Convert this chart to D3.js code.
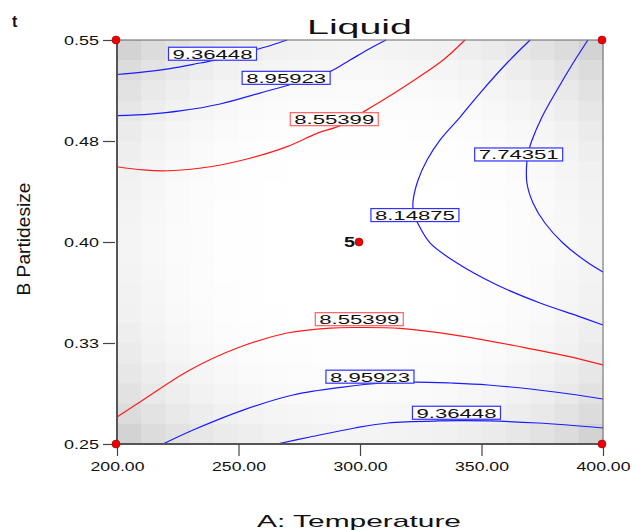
<!DOCTYPE html>
<html>
<head>
<meta charset="utf-8">
<script src="https://cdnjs.cloudflare.com/ajax/libs/d3/7.8.5/d3.min.js"></script>
<style>
  html, body { margin: 0; padding: 0; background: #fff; }
  text { font-family: "Liberation Sans", Arial, sans-serif; }
</style>
</head>
<body>
<div id="chart"></div>
<script>
// axis ranges and ticks
const xDomain = [200, 400]
const yDomain = [0.25, 0.55]
const xTicks = [200, 250, 300, 350, 400]
const xTickLabels = ["200.00", "250.00", "300.00", "350.00", "400.00"]
const yTicks = [0.25, 0.325, 0.40, 0.475, 0.55]
const yTickLabels = ["0.25", "0.33", "0.40", "0.48", "0.55"]

// contour lines, [temperature, particle size]
const line936Top = [[200, 0.5244], [209.5, 0.5259], [221.8, 0.5288], [234.2, 0.5329], [242.4, 0.5357],
  [250.6, 0.5396], [257.6, 0.5431], [263.8, 0.5463], [270.0, 0.55]]
const line896Top = [[200, 0.4938], [213.6, 0.4950], [225.9, 0.4973], [242.4, 0.5025], [258.8, 0.5106],
  [272.0, 0.5173], [279.4, 0.5218], [287.7, 0.5265], [295.9, 0.5351], [304.1, 0.5437], [310.7, 0.55]]
const line855Top = [[200, 0.4559], [210.7, 0.4535], [221.0, 0.4529], [238.3, 0.4559], [254.7, 0.4622],
  [270.0, 0.4708], [282.3, 0.4807], [291.8, 0.4864], [300.8, 0.4960], [309.5, 0.5054], [323.5, 0.5216],
  [334.2, 0.5351], [343.2, 0.55]]
const line815 = [[370.0, 0.55], [360.5, 0.5329], [349.4, 0.5106], [341.2, 0.4928], [332.9, 0.4757],
  [327.6, 0.4609], [323.9, 0.4460], [321.8, 0.4297], [322.2, 0.4200], [323.5, 0.4149], [328.8, 0.3993],
  [339.9, 0.3844], [356.4, 0.3681], [374.1, 0.3547], [389.7, 0.3450], [400, 0.3384]]
const line774 = [[393.8, 0.55], [387.7, 0.5329], [381.1, 0.5129], [374.9, 0.4928], [370.8, 0.4757],
  [369.5, 0.4683], [368.7, 0.4601], [368.7, 0.4438], [371.2, 0.4290], [376.1, 0.4141], [383.5, 0.3993],
  [393.4, 0.3851], [400, 0.3777]]
const line855Bot = [[200, 0.2700], [210.7, 0.2827], [230.0, 0.3050], [250.6, 0.3220], [270.0, 0.3324],
  [287.7, 0.3361], [300.0, 0.3365], [316.5, 0.3358], [339.1, 0.3309], [366.7, 0.3220], [385.2, 0.3153],
  [400, 0.3087]]
const line896Bot = [[218.9, 0.25], [231.3, 0.2604], [251.9, 0.2752], [272.4, 0.2864], [293.0, 0.2923],
  [309.5, 0.2953], [322.6, 0.2960], [337.0, 0.2953], [352.7, 0.2938], [380.2, 0.2886], [400, 0.2834]]
const line936Bot = [[265.8, 0.25], [279.4, 0.2552], [297.9, 0.2619], [311.5, 0.2656], [332.1, 0.2671],
  [352.7, 0.2671], [373.3, 0.2656], [400, 0.2619]]

const contourLines = [
  { level: "9.36448", pts: line936Top, at: [239.3, 0.5398] },
  { level: "8.95923", pts: line896Top, at: [269.6, 0.5219] },
  { level: "8.55399", pts: line855Top, at: [289.4, 0.4912] },
  { level: "8.14875", pts: line815, at: [322.6, 0.4200] },
  { level: "7.74351", pts: line774, at: [365.3, 0.4650] },
  { level: "8.55399", pts: line855Bot, at: [299.7, 0.3427] },
  { level: "8.95923", pts: line896Bot, at: [304.1, 0.3000] },
  { level: "9.36448", pts: line936Bot, at: [339.7, 0.2732] }
]
const redLevel = "8.55399"

// design points
const designPts = [[200, 0.25], [200, 0.55], [400, 0.25], [400, 0.55], [300, 0.40]]
const centerRuns = "5"

const W = 633, H = 530
const m = { left: 117, top: 40, right: 30, bottom: 86 }
const pw = W - m.left - m.right, ph = H - m.top - m.bottom

const svg = d3.select("#chart").append("svg").attr("width", W).attr("height", H)

const x = d3.scaleLinear().domain(xDomain).range([m.left, m.left + pw])
const y = d3.scaleLinear().domain(yDomain).range([m.top + ph, m.top])

// grey shading of the prediction error, darker toward the corners
const nCells = 20
const cells = d3.range(nCells * nCells).map(i => ({ c: i % nCells, r: Math.floor(i / nCells) }))
const cw = pw / nCells, ch = ph / nCells
svg.append("g").selectAll("rect").data(cells).join("rect")
  .attr("x", d => m.left + d.c * cw).attr("y", d => m.top + d.r * ch)
  .attr("width", cw + 0.5).attr("height", ch + 0.5)
  .attr("fill", d => {
    const u = (d.c + 0.5) / nCells * 2 - 1, v = (d.r + 0.5) / nCells * 2 - 1
    const k = 0.055 * (u ** 4 + v ** 4) + 0.1 * u * u * v * v
    const g = Math.round(255 * (1 - k))
    return `rgb(${g},${g},${g})`
  })

// contour lines
const line = d3.line().x(d => x(d[0])).y(d => y(d[1])).curve(d3.curveCatmullRom.alpha(0.5))
svg.append("g").selectAll("path").data(contourLines).join("path")
  .attr("d", d => line(d.pts))
  .attr("fill", "none")
  .attr("stroke", d => d.level === redLevel ? "#ff1a1a" : "#1a1aff")
  .attr("stroke-width", 1.2)

// frame
svg.append("rect").attr("x", m.left).attr("y", m.top).attr("width", pw).attr("height", ph)
  .attr("fill", "none").attr("stroke", "#666").attr("stroke-width", 1)
svg.append("line").attr("x1", m.left).attr("x2", m.left).attr("y1", m.top).attr("y2", m.top + ph + 1)
  .attr("stroke", "#555").attr("stroke-width", 2)
svg.append("line").attr("x1", m.left).attr("x2", m.left + pw).attr("y1", m.top + ph).attr("y2", m.top + ph)
  .attr("stroke", "#555").attr("stroke-width", 2)

// axes
const xAxis = svg.append("g").attr("transform", `translate(0,${m.top + ph})`)
  .call(d3.axisBottom(x).tickValues(xTicks).tickSize(12).tickFormat((d, i) => xTickLabels[i]))
const yAxis = svg.append("g").attr("transform", `translate(${m.left - 2},0)`)
  .call(d3.axisLeft(y).tickValues(yTicks).tickSize(12).tickFormat((d, i) => yTickLabels[i]))
for (const ax of [xAxis, yAxis]) {
  ax.select(".domain").remove()
  ax.selectAll(".tick line").attr("stroke", "#444").attr("stroke-width", 1.2)
  ax.selectAll(".tick text").attr("fill", "#111").attr("font-size", 12.5)
    .attr("font-family", '"Liberation Sans", Arial, sans-serif')
}
xAxis.selectAll(".tick text").attr("dy", null).attr("y", 27)
  .attr("textLength", 54).attr("lengthAdjust", "spacingAndGlyphs")
yAxis.selectAll(".tick text").attr("dy", "0.36em").attr("x", -16)
  .attr("textLength", 35).attr("lengthAdjust", "spacingAndGlyphs")

// contour labels
const lab = svg.append("g").selectAll("g").data(contourLines).join("g")
  .attr("transform", d => `translate(${x(d.at[0])},${y(d.at[1])})`)
lab.append("rect").attr("x", -44).attr("y", -6.5).attr("width", 88).attr("height", 13)
  .attr("fill", "#fff")
  .attr("stroke", d => d.level === redLevel ? "#ff6060" : "#3030ff").attr("stroke-width", 1.2)
lab.append("text").text(d => d.level).attr("text-anchor", "middle").attr("y", 5)
  .attr("font-size", 13).attr("fill", "#111")
  .attr("textLength", 80).attr("lengthAdjust", "spacingAndGlyphs")

// design points
svg.append("g").selectAll("circle").data(designPts).join("circle")
  .attr("cx", d => x(d[0]) - 1).attr("cy", d => y(d[1]))
  .attr("r", 4).attr("fill", "#ee0000").attr("stroke", "#900").attr("stroke-width", 0.6)
svg.append("text").text(centerRuns)
  .attr("x", x(300) - 5).attr("y", y(0.40) + 5).attr("text-anchor", "end")
  .attr("font-size", 15).attr("font-weight", "bold").attr("fill", "#111")
  .attr("textLength", 11).attr("lengthAdjust", "spacingAndGlyphs")

// titles
svg.append("text").text("Liquid").attr("x", 359.5).attr("y", 34).attr("text-anchor", "middle")
  .attr("font-size", 20).attr("fill", "#111")
  .attr("textLength", 105).attr("lengthAdjust", "spacingAndGlyphs")
svg.append("text").text("A: Temperature").attr("x", 359).attr("y", 527).attr("text-anchor", "middle")
  .attr("font-size", 17).attr("fill", "#111")
  .attr("textLength", 204).attr("lengthAdjust", "spacingAndGlyphs")
svg.append("text").text("B Partidesize").attr("transform", "translate(30,239) rotate(-90)")
  .attr("text-anchor", "middle").attr("font-size", 18).attr("fill", "#111")
  .attr("textLength", 113).attr("lengthAdjust", "spacingAndGlyphs")
svg.append("text").text("t").attr("x", 12).attr("y", 27)
  .attr("font-size", 16).attr("font-weight", "bold").attr("fill", "#111")
</script>
</body>
</html>
